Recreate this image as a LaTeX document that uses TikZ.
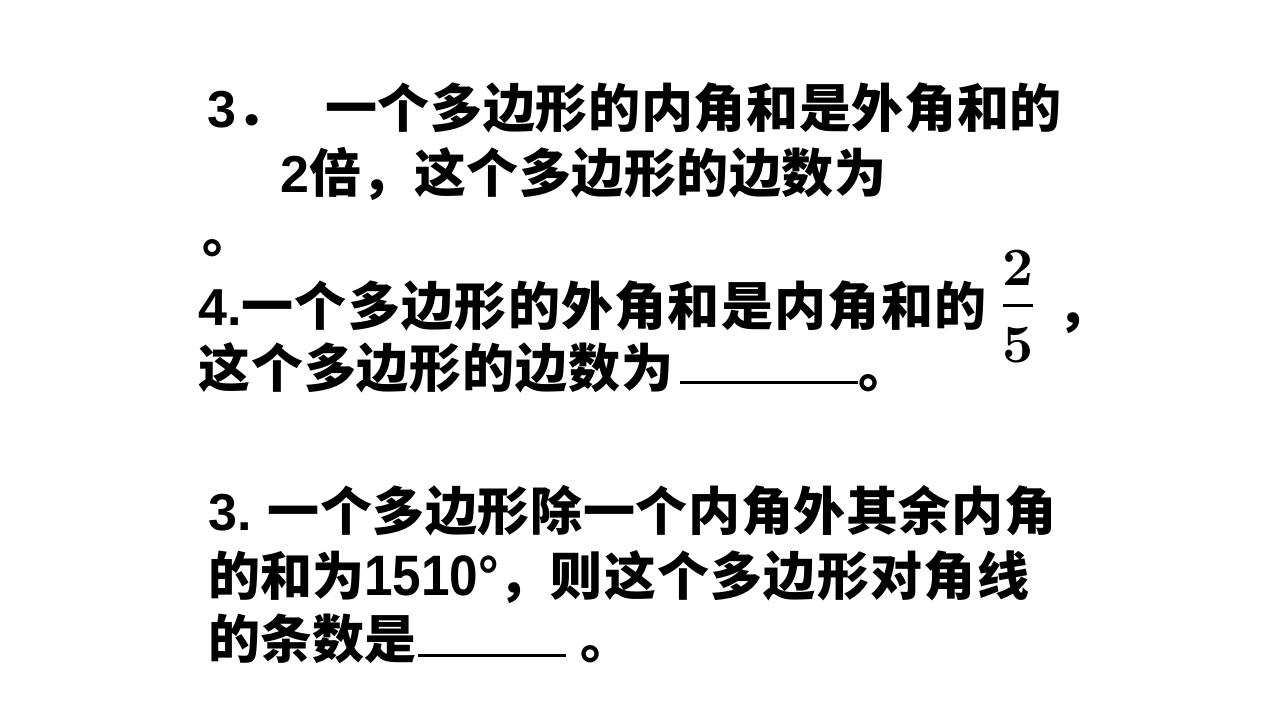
\documentclass[tikz,border=0pt]{standalone}
\usepackage{fontspec}
\newfontfamily\cjk{Noto Sans CJK SC}
\newfontfamily\lat{Liberation Sans}
\newfontfamily\latn[FakeStretch=0.9]{Liberation Sans}
\newfontfamily\serb{lmroman10-bold.otf}
\tikzset{
  txt/.style={anchor=base west, inner sep=0pt, font=\cjk\bfseries\fontsize{52}{60}\selectfont},
  frac/.style={anchor=base, inner sep=0pt, font=\serb\fontsize{54}{60}\selectfont},
  blank/.style={line width=3pt},
}
\begin{document}
\begin{tikzpicture}[x=1pt,y=-1pt]
\useasboundingbox[fill=white] (0,0) rectangle (1280,720);
% problem 3 (first)
\node[txt] (a1) at (207,127) {{\lat\bfseries 3}．};
\node[txt] (a2) at (325,127) {\addfontfeature{LetterSpace=1.3}一个多边形的内角和是外角和的};
\node[txt] (a3) at (280,192) {{\lat\bfseries 2}\addfontfeature{LetterSpace=1}倍，这个多边形的边数为};
\node[txt] (a4) at (202,252) {。};
% problem 4
\node[txt] (b1) at (198,325) {{\lat\bfseries 4.}\addfontfeature{LetterSpace=2.5}一个多边形的外角和是内角和的};
\node[frac] (n2) at (1018,285) {2};
\node[frac] (n5) at (1018,362) {5};
\draw[line width=3pt] (1003,305) -- (1033,305);
\node[txt] (b2) at (1057,325) {，};
\node[txt] (b3) at (198,387) {\addfontfeature{LetterSpace=1.8}这个多边形的边数为};
\draw[blank] (680,382) -- (858,382);
\node[txt] (b4) at (858,387) {。};
% problem 3 (second)
\node[txt] (c1) at (208,530) {{\lat\bfseries 3.} \addfontfeature{LetterSpace=1.2}一个多边形除一个内角外其余内角};
\node[txt] (c2) at (208,595) {的和为{\latn\bfseries\fontsize{57}{60}\selectfont 1510°}，\addfontfeature{LetterSpace=2.5}则这个多边形对角线};
\node[txt] (c3) at (208,658) {的条数是};
\draw[blank] (418,655) -- (566,655);
\node[txt] (c4) at (580,658) {。};
\end{tikzpicture}
\end{document}
